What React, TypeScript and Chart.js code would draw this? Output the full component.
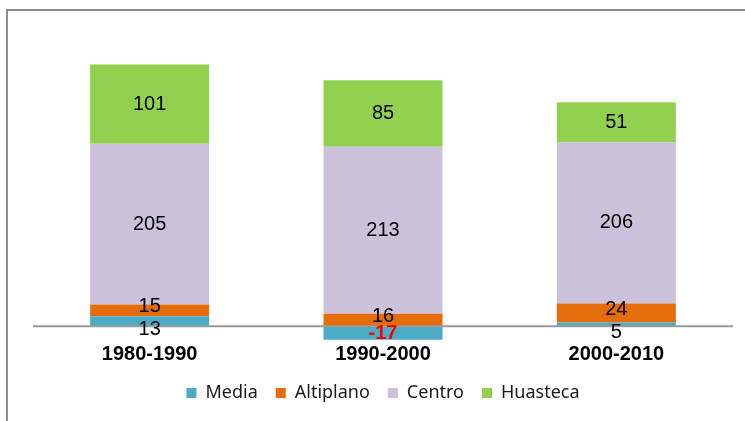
import React, { useEffect, useRef } from "react";
import { Chart, registerables } from "chart.js";

Chart.register(...registerables);

const categories = ["1980-1990", "1990-2000", "2000-2010"];
const media = [13, -17, 5];
const altiplano = [15, 16, 24];
const centro = [205, 213, 206];
const huasteca = [101, 85, 51];
const seriesNames = ["Media", "Altiplano", "Centro", "Huasteca"];
const seriesColors = ["#4BACC6", "#E46C0A", "#CCC1DA", "#92D050"];
const yMin = -20;
const yMax = 350;

const framePlugin = {
  id: "frame",
  beforeDraw(chart: any) {
    const ctx = chart.ctx;
    ctx.save();
    ctx.fillStyle = "#ffffff";
    ctx.fillRect(0, 0, chart.width, chart.height);
    ctx.strokeStyle = "#8c8c8c";
    ctx.lineWidth = 2;
    ctx.beginPath();
    ctx.moveTo(7, chart.height);
    ctx.lineTo(7, 10);
    ctx.lineTo(chart.width, 10);
    ctx.stroke();
    ctx.restore();
  },
};

const zeroLinePlugin = {
  id: "zeroLine",
  afterDatasetsDraw(chart: any) {
    const { ctx, chartArea, scales } = chart;
    const y = scales.y.getPixelForValue(0);
    ctx.save();
    ctx.strokeStyle = "#9a9a9a";
    ctx.lineWidth = 2;
    ctx.beginPath();
    ctx.moveTo(chartArea.left, y);
    ctx.lineTo(chartArea.right, y);
    ctx.stroke();
    ctx.restore();
  },
};

const labelPlugin = {
  id: "segLabels",
  afterDatasetsDraw(chart: any) {
    const ctx = chart.ctx;
    ctx.save();
    ctx.textAlign = "center";
    ctx.textBaseline = "middle";
    chart.data.datasets.forEach((ds: any, di: number) => {
      const meta = chart.getDatasetMeta(di);
      meta.data.forEach((el: any, i: number) => {
        const v = ds.data[i];
        let cy = (el.y + el.base) / 2;
        if (di === 0 && v > 0) cy += 8;
        if (di === 1) cy -= 4;
        if (v < 0) {
          ctx.fillStyle = "#FF0000";
          ctx.font = "bold 20px 'Liberation Sans', Arial, sans-serif";
        } else {
          ctx.fillStyle = "#000000";
          ctx.font = "20px 'Liberation Sans', Arial, sans-serif";
        }
        ctx.fillText(String(v), el.x, cy);
      });
    });
    ctx.restore();
  },
};

export default function App() {
  const ref = useRef<HTMLCanvasElement | null>(null);
  useEffect(() => {
    if (!ref.current) return;
    const values = [media, altiplano, centro, huasteca];
    const chart = new Chart(ref.current, {
      type: "bar",
      data: {
        labels: categories,
        datasets: seriesNames.map((name, i) => ({
          label: name,
          data: values[i],
          backgroundColor: seriesColors[i],
          borderWidth: 0,
          categoryPercentage: 1,
          barPercentage: 0.51,
        })),
      },
      options: {
        animation: false,
        responsive: false,
        layout: { padding: { left: 33, right: 12, top: 52, bottom: 9 } },
        plugins: {
          tooltip: { enabled: false },
          legend: {
            position: "bottom",
            labels: {
              boxWidth: 10,
              boxHeight: 10,
              padding: 18,
              color: "#1a1a1a",
              font: { family: "'Noto Sans', sans-serif", size: 18 },
            },
          },
        },
        scales: {
          x: {
            stacked: true,
            grid: { display: false, drawTicks: false },
            border: { display: false },
            ticks: {
              padding: 0,
              color: "#000",
              font: { family: "'Liberation Sans', Arial, sans-serif", size: 20, weight: "bold" },
            },
          },
          y: {
            stacked: true,
            display: false,
            min: yMin,
            max: yMax,
          },
        },
      },
      plugins: [framePlugin, zeroLinePlugin, labelPlugin],
    });
    return () => chart.destroy();
  }, []);
  return (
    <div style={{ position: "fixed", left: 0, top: 0, width: 745, height: 421 }}>
      <canvas ref={ref} width={745} height={421} style={{ display: "block" }} />
    </div>
  );
}
